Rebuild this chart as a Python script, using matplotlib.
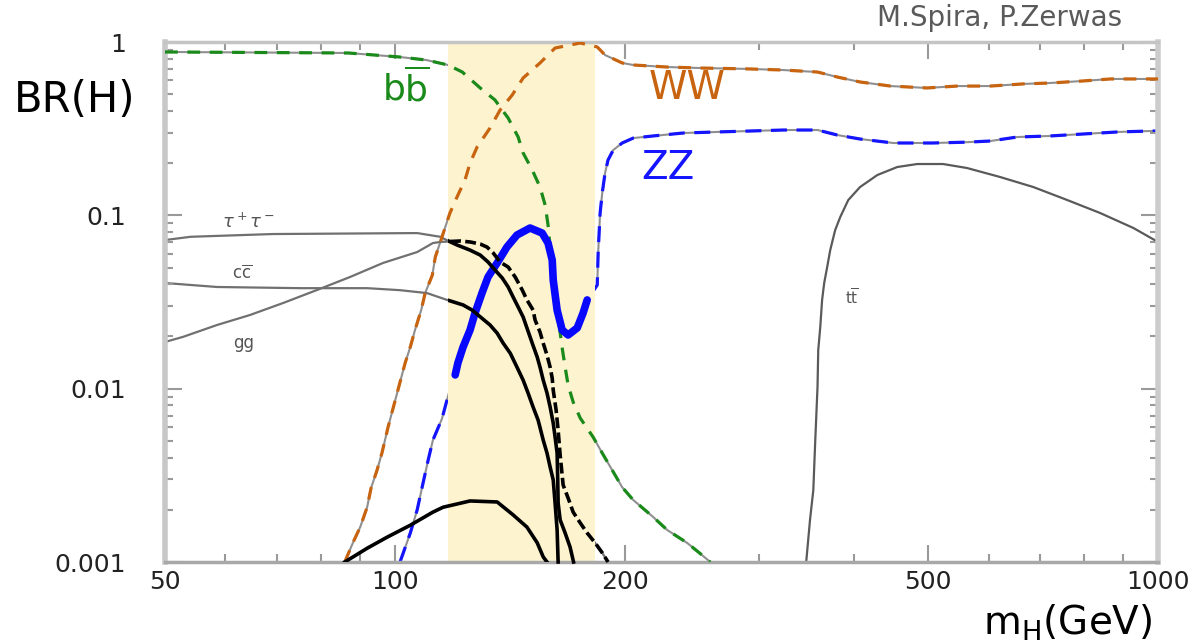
import numpy as np
import matplotlib.pyplot as plt
from matplotlib.patches import Rectangle
from matplotlib.ticker import FixedLocator, FixedFormatter, LogLocator, NullFormatter

# Higgs branching ratios (mass in GeV, BR)
bb_m = [50, 87, 101.6, 110, 117.4, 122.6, 129.4, 135.3, 140.8, 145.1, 147.3, 151.4, 155, 157.4,
        158.8, 161.3, 165.7, 167.2, 168.7, 171.3, 175, 181.9, 187, 192.7, 198.6, 205.3, 218,
        227.5, 241.5, 250, 259]
bb_br = [0.876, 0.864, 0.819, 0.787, 0.737, 0.671, 0.543, 0.463, 0.364, 0.283, 0.229, 0.1825,
         0.1456, 0.1147, 0.0879, 0.0423, 0.0172, 0.0133, 0.0105, 0.00837, 0.00676, 0.00526,
         0.00425, 0.00339, 0.0027, 0.00228, 0.00182, 0.00153, 0.00129, 0.00114, 0.001]

ww_m = [86.0, 88.2, 90.1, 92, 93.1, 94.8, 96.2, 98, 101.6, 103.2, 104.8, 106.3, 108.3, 109.6,
        112, 113, 115.3, 118.1, 120.7, 123.6, 125.5, 128.2, 133.3, 137.4, 142.5, 147.3, 155,
        162.2, 175, 184.2, 188.6, 198.6, 205.3, 227.5, 251, 292, 323, 358, 380, 407, 446, 498,
        546, 603, 666, 722, 798, 866, 939, 1000]
ww_br = [0.001, 0.0013, 0.00159, 0.00207, 0.00267, 0.00339, 0.00425, 0.006, 0.0109, 0.0141,
         0.0174, 0.0218, 0.0284, 0.0356, 0.0452, 0.0574, 0.0749, 0.103, 0.128, 0.16, 0.2, 0.248,
         0.319, 0.405, 0.494, 0.62, 0.757, 0.923, 0.987, 0.936, 0.841, 0.757, 0.737, 0.717,
         0.708, 0.699, 0.689, 0.671, 0.628, 0.588, 0.557, 0.543, 0.557, 0.557, 0.573, 0.58,
         0.596, 0.612, 0.612, 0.612]

zz_m = [101.6, 104.8, 107, 108.9, 110.6, 112.2, 115.3, 118, 120, 121, 122.9, 125.5, 127.4,
        130.1, 132.5, 136.2, 140.3, 144.6, 150.4, 156, 158.8, 160.8, 161.3, 163.2, 165.7, 168.7,
        173.4, 176.5, 178.7, 184.2, 184.7, 185.8, 187, 188.6, 190.3, 193.3, 198.6, 205.3, 218,
        238.7, 264.5, 292, 323, 358, 380, 407, 450, 507, 562, 603, 654, 722, 798, 885, 977, 1000]
zz_br = [0.001, 0.00147, 0.002, 0.00285, 0.00387, 0.00505, 0.0067, 0.0098, 0.012, 0.0141,
         0.0174, 0.0218, 0.0273, 0.0356, 0.0441, 0.0531, 0.0657, 0.077, 0.0845, 0.079, 0.0692,
         0.0552, 0.0423, 0.0284, 0.0218, 0.0204, 0.0224, 0.0273, 0.0325, 0.0396, 0.0606, 0.103,
         0.1345, 0.1755, 0.2086, 0.238, 0.2614, 0.279, 0.287, 0.2985, 0.3027, 0.3065, 0.3106,
         0.3106, 0.2906, 0.2756, 0.2614, 0.2614, 0.2643, 0.2684, 0.283, 0.287, 0.2946, 0.3027,
         0.3065, 0.3065]

tt_m = [346, 350, 353.5, 355.6, 358, 358.8, 361, 363, 365.3, 368.6, 372, 377.6, 383.4, 392.8,
        407, 428.8, 455.4, 483.7, 523, 562, 621, 686.6, 760.6, 840, 928.5, 1000]
tt_br = [0.001, 0.00175, 0.0026, 0.00505, 0.0102, 0.0167, 0.0227, 0.0325, 0.0407, 0.0503, 0.063,
         0.0822, 0.0977, 0.1225, 0.1456, 0.1708, 0.19, 0.1977, 0.1977, 0.1875, 0.1664, 0.1456,
         0.1225, 0.1031, 0.0845, 0.0702]

tau_m = [50, 54, 69.2, 107, 114.7, 116.9, 120.7, 125.5, 129.4, 132.5, 135.3, 138.3, 140.8, 142.9,
         145.1, 147.3, 149, 151.4, 153.7, 155, 156.5, 158.3, 159.8, 161.3, 162.2, 163.2, 163.5,
         163.7, 164.7, 167.2, 169.7, 171.5]
tau_br = [0.072, 0.0752, 0.078, 0.079, 0.0752, 0.072, 0.0674, 0.063, 0.059, 0.0538, 0.0484,
          0.0435, 0.0386, 0.0338, 0.0296, 0.0259, 0.0224, 0.0183, 0.0152, 0.0133, 0.0112,
          0.00944, 0.00783, 0.00633, 0.00526, 0.00425, 0.00297, 0.00219, 0.00175, 0.00147,
          0.00122, 0.001]

cc_m = [50, 58.5, 75.2, 92, 101.6, 110.2, 117.1, 122.9, 126.3, 133.3, 136.2, 138.7, 141.7, 144.6,
        147.3, 149.5, 151.8, 154.1, 156.5, 158.3, 159.8, 161.3, 162.2, 163.2, 163.7]
cc_br = [0.0407, 0.0386, 0.038, 0.038, 0.037, 0.0356, 0.0325, 0.0304, 0.0284, 0.0233, 0.0209,
         0.0183, 0.016, 0.0133, 0.0112, 0.00944, 0.00783, 0.00659, 0.00505, 0.00425, 0.00353,
         0.00297, 0.00219, 0.00153, 0.001]

gg_m = [50, 52.8, 58.5, 64.6, 71.4, 79.1, 87.4, 96.5, 107, 112.2, 114.7, 121.8, 125.5, 129.4,
        132.1, 134.6, 137.4, 140.8, 143.8, 146.9, 149, 151.8, 152.7, 155, 156.5, 158.3, 159.8,
        160.8, 161.3, 162.7, 163.7, 164.7, 166.2, 168.7, 171.3, 175, 178.7, 183, 187, 190.3]
gg_br = [0.0186, 0.0199, 0.0233, 0.0266, 0.0312, 0.0371, 0.0441, 0.0531, 0.0614, 0.0692, 0.0702,
         0.0711, 0.0702, 0.0683, 0.0656, 0.0606, 0.0538, 0.0503, 0.0441, 0.0371, 0.0325, 0.0284,
         0.0249, 0.0212, 0.0183, 0.0156, 0.0133, 0.0115, 0.0098, 0.00753, 0.00577, 0.00414,
         0.00278, 0.00234, 0.00194, 0.00168, 0.00147, 0.00129, 0.00113, 0.001]

aa_m = [86.0, 92, 97.7, 104.8, 112.2, 115.7, 125.5, 136.2, 142.9, 149, 153.7, 156.5, 158.3]
aa_br = [0.001, 0.0012, 0.00139, 0.00163, 0.00194, 0.00207, 0.00225, 0.00222, 0.00187, 0.00159,
         0.00129, 0.00107, 0.001]

band_lo, band_hi = 117.5, 183.0

x_ticks = [50, 100, 200, 500, 1000]
x_labels = ['50', '100', '200', '500', '1000']
y_ticks = [0.001, 0.01, 0.1, 1]
y_labels = ['0.001', '0.01', '0.1', '1']

W, H = 1196, 642
fig = plt.figure(figsize=(W / 100, H / 100), dpi=100)
ax = fig.add_axes([165 / W, 1 - 562 / H, (1158 - 165) / W, (562 - 42) / H])
ax.set_xscale('log')
ax.set_yscale('log')
ax.set_xlim(50, 1000)
ax.set_ylim(0.001, 1)

ax.axvspan(band_lo, band_hi, facecolor='#fdf3cf', edgecolor='none', zorder=2)

# thin gray curves (hidden under the band)
for m, br in [(bb_m, bb_br), (ww_m, ww_br), (zz_m, zz_br)]:
    ax.plot(m, br, color='#8f8f8f', lw=1.5, zorder=1)
for m, br in [(tau_m, tau_br), (cc_m, cc_br), (gg_m, gg_br)]:
    ax.plot(m, br, color='#707070', lw=1.6, zorder=1)
ax.plot(tt_m, tt_br, color='#5a5a5a', lw=1.6, zorder=1)

# coloured dashed curves
ax.plot(bb_m, bb_br, color='#1a8a1a', lw=2.3, dashes=(4, 3), zorder=3)
ax.plot(ww_m, ww_br, color='#c8640f', lw=2.3, dashes=(4, 3), zorder=3)
ax.plot(zz_m, zz_br, color='#1414ff', lw=2.3, dashes=(5, 3), zorder=1.5)

# ZZ inside the band drawn thick
zz_m_a = np.array(zz_m)
sel = (zz_m_a >= 119.5) & (zz_m_a <= 179)
ax.plot(zz_m_a[sel], np.array(zz_br)[sel], color='#0808ff', lw=5.5, zorder=4,
        solid_capstyle='round', solid_joinstyle='round')

# black curves right of the band edge
clip = Rectangle((band_lo, 1e-4), 1000 - band_lo, 10, transform=ax.transData)
for m, br, ls in [(tau_m, tau_br, '-'), (cc_m, cc_br, '-'), (gg_m, gg_br, '--')]:
    ln, = ax.plot(m, br, color='black', lw=2.6, ls=ls, zorder=5)
    if ls == '--':
        ln.set_dashes((3, 1.2))
    ln.set_clip_path(clip)
ax.plot(aa_m, aa_br, color='black', lw=2.6, zorder=5)

# axes decoration
ax.xaxis.set_major_locator(FixedLocator(x_ticks))
ax.xaxis.set_major_formatter(FixedFormatter(x_labels))
ax.xaxis.set_minor_locator(LogLocator(base=10, subs=np.arange(2, 10)))
ax.xaxis.set_minor_formatter(NullFormatter())
ax.yaxis.set_major_locator(FixedLocator(y_ticks))
ax.yaxis.set_major_formatter(FixedFormatter(y_labels))
ax.yaxis.set_minor_locator(LogLocator(base=10, subs=np.arange(2, 10)))
ax.yaxis.set_minor_formatter(NullFormatter())
ax.tick_params(which='both', direction='in', top=True, right=True, color='#999999',
               width=1.5, labelsize=18, labelcolor='#222222')
ax.tick_params(which='major', length=12)
ax.tick_params(which='minor', length=6)
ax.tick_params(axis='y', which='both', pad=28)
ax.tick_params(axis='x', which='both', pad=6)
for side, c, w in [('left', '#c8c8c8', 4), ('right', '#cccccc', 4),
                   ('top', '#c4c4c4', 2.5), ('bottom', '#a8a8a8', 2.5)]:
    ax.spines[side].set_color(c)
    ax.spines[side].set_linewidth(w)

# curve labels
ax.text(103.5, 0.54, r'b$\overline{\mathrm{b}}$', color='#1a8a1a', fontsize=26,
        ha='center', va='center', zorder=6)
ax.text(242, 0.54, 'WW', color='#c8640f', fontsize=28, ha='center', va='center', zorder=6)
ax.text(228, 0.187, 'ZZ', color='#1414ff', fontsize=28, ha='center', va='center', zorder=6)
ax.text(64.3, 0.0915, r'$\tau^+\tau^-$', color='#555555', fontsize=13, ha='center', va='center')
ax.text(63.1, 0.0458, r'c$\overline{\mathrm{c}}$', color='#555555', fontsize=12, ha='center', va='center')
ax.text(63.3, 0.0183, 'gg', color='#555555', fontsize=12, ha='center', va='center')
ax.text(397.6, 0.0333, r't$\overline{\mathrm{t}}$', color='#555555', fontsize=11, ha='center', va='center')

fig.text(75 / W, 1 - 100 / H, 'BR(H)', fontsize=30, ha='center', va='center', color='black')
fig.text(1068 / W, 1 - 623 / H, r'm$_{\mathrm{H}}$(GeV)', fontsize=28, ha='center',
         va='center', color='black')
fig.text(1000 / W, 1 - 18 / H, 'M.Spira, P.Zerwas', fontsize=20, ha='center', va='center',
         color='#5a5a5a')

fig.savefig('out.png', dpi=100)
